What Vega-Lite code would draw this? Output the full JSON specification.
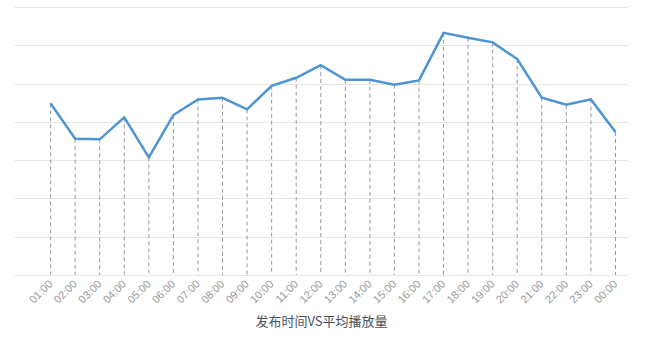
{
  "$schema": "https://vega.github.io/schema/vega-lite/v6.json",
  "width": 614,
  "height": 268,
  "padding": {"left": 14, "top": 7, "right": 27, "bottom": 71},
  "autosize": {"type": "none"},
  "background": "white",
  "config": {"view": {"stroke": null}, "font": "Noto Sans CJK SC"},
  "data": {"values": [
    {"time": "01:00", "plays": 4483},
    {"time": "02:00", "plays": 3559},
    {"time": "03:00", "plays": 3543},
    {"time": "04:00", "plays": 4117},
    {"time": "05:00", "plays": 3073},
    {"time": "06:00", "plays": 4178},
    {"time": "07:00", "plays": 4587},
    {"time": "08:00", "plays": 4629},
    {"time": "09:00", "plays": 4326},
    {"time": "10:00", "plays": 4943},
    {"time": "11:00", "plays": 5151},
    {"time": "12:00", "plays": 5483},
    {"time": "13:00", "plays": 5099},
    {"time": "14:00", "plays": 5099},
    {"time": "15:00", "plays": 4969},
    {"time": "16:00", "plays": 5083},
    {"time": "17:00", "plays": 6326},
    {"time": "18:00", "plays": 6196},
    {"time": "19:00", "plays": 6076},
    {"time": "20:00", "plays": 5640},
    {"time": "21:00", "plays": 4629},
    {"time": "22:00", "plays": 4446},
    {"time": "23:00", "plays": 4587},
    {"time": "00:00", "plays": 3734}
  ]},
  "encoding": {
    "x": {
      "field": "time", "type": "ordinal", "sort": null,
      "scale": {"type": "point", "padding": 1.04, "align": 0.745},
      "axis": {
        "title": "发布时间VS平均播放量", "titleFontSize": 13, "titleFontWeight": "normal",
        "titleColor": "#4a4f5c", "titlePadding": 11,
        "labelAngle": -45, "labelAlign": "right", "labelBaseline": "middle",
        "labelFontSize": 11, "labelColor": "#999999",
        "labelFont": "Liberation Sans",
        "domain": false, "ticks": false, "grid": false, "labelPadding": 7
      }
    },
    "y": {
      "field": "plays", "type": "quantitative",
      "scale": {"domain": [0, 7000], "nice": false},
      "axis": {
        "title": null, "labels": false, "ticks": false, "domain": false,
        "grid": true, "gridColor": "#e6e6e6", "values": [0, 1000, 2000, 3000, 4000, 5000, 6000, 7000]
      }
    }
  },
  "layer": [
    {
      "mark": {"type": "rule", "strokeDash": [4, 3], "color": "#9a9a9a", "strokeWidth": 1},
      "encoding": {"y2": {"datum": 0}}
    },
    {
      "mark": {"type": "line", "color": "#4e93d2", "strokeWidth": 2.5}
    }
  ]
}
